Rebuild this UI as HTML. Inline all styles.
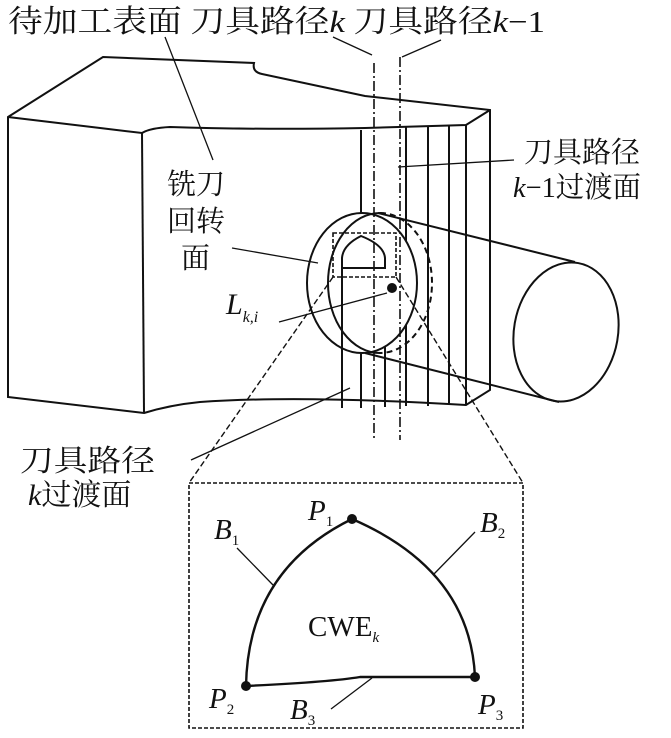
<!DOCTYPE html>
<html><head><meta charset="utf-8"><style>
html,body{margin:0;padding:0;background:#fff;}
svg{display:block;}
text{font-family:"Liberation Serif","Noto Serif CJK SC","Noto Sans CJK SC",serif;fill:#111;}
</style></head><body>
<svg width="671" height="738" viewBox="0 0 671 738" xmlns="http://www.w3.org/2000/svg">
<g fill="none" stroke="#111" stroke-width="2">
<path d="M8,117 L103,57 L254,63 Q252,72 262,74 Q300,82 365,96 L490,110 L490,390 L466,405 Q300,395 200,402 Q170,405 144,413 L8,397 Z"/>
<path d="M8,117 L142,133 Q150,128 170,127 Q260,130 365,128 L466,125 L490,110"/>
<line x1="142" y1="133" x2="144" y2="413"/>
<line x1="361" y1="130" x2="361" y2="408"/>
<line x1="406" y1="127" x2="406" y2="406"/>
<line x1="428" y1="126" x2="428" y2="406"/>
<line x1="449" y1="126" x2="449" y2="405"/>
<line x1="466" y1="125" x2="466" y2="405"/>
<line x1="342" y1="243" x2="342" y2="408"/>
<line x1="385" y1="267" x2="385" y2="407"/>
<ellipse cx="362" cy="283" rx="55" ry="70" fill="#fff"/>
<path d="M380,213 A52,70 0 0 0 380,353"/>
<path d="M380,213 A52,70 0 0 1 380,353" stroke-dasharray="6,4"/>
<line x1="378" y1="213" x2="575" y2="262"/>
<line x1="365" y1="353" x2="559" y2="402"/>
<ellipse cx="566" cy="332" rx="52" ry="70" transform="rotate(10 566 332)"/>
<path d="M342,268 L342,258 Q343,245 361,236 Q384,245 385,258 L385,268 Z"/>
<line x1="342" y1="268" x2="342" y2="408"/>
<rect x="333" y="233" width="63" height="44" stroke-width="1.6" stroke-dasharray="4,2"/>
<line x1="374" y1="63" x2="374" y2="440" stroke-width="1.6" stroke-dasharray="10,3,2,3"/>
<line x1="400" y1="57" x2="400" y2="440" stroke-width="1.6" stroke-dasharray="10,3,2,3"/>
<g stroke-width="1.3">
<line x1="333" y1="37" x2="372" y2="55"/>
<line x1="441" y1="40" x2="402" y2="57"/>
<line x1="165" y1="37" x2="213" y2="160"/>
<line x1="514" y1="160" x2="398" y2="167"/>
<line x1="232" y1="248" x2="318" y2="263"/>
<line x1="279" y1="322" x2="387" y2="293"/>
<line x1="191" y1="460" x2="350" y2="388"/>
</g>
<line x1="333" y1="277" x2="189" y2="483" stroke-width="1.4" stroke-dasharray="6,3"/>
<line x1="396" y1="277" x2="523" y2="483" stroke-width="1.4" stroke-dasharray="6,3"/>
<rect x="189" y="483" width="334" height="245" stroke-width="1.6" stroke-dasharray="4,2"/>
<path d="M246,686 Q248,570 352,519 Q470,570 475,677 L360,677 Q330,682 246,686 Z" stroke-width="2.4"/>
<g stroke-width="1.3">
<line x1="237" y1="548" x2="273" y2="585"/>
<line x1="475" y1="532" x2="433" y2="575"/>
<line x1="331" y1="709" x2="372" y2="678"/>
</g>
</g>
<circle cx="392" cy="288" r="5" fill="#111"/>
<circle cx="352" cy="519" r="5" fill="#111"/>
<circle cx="246" cy="686" r="5" fill="#111"/>
<circle cx="475" cy="677" r="5" fill="#111"/>
<text x="8" y="32" font-size="31" textLength="537" lengthAdjust="spacingAndGlyphs">待加工表面 刀具路径<tspan font-style="italic">k</tspan> 刀具路径<tspan font-style="italic">k</tspan>−1</text>
<text x="524" y="162" font-size="29" textLength="116" lengthAdjust="spacingAndGlyphs">刀具路径</text>
<text x="513" y="197" font-size="29" textLength="128" lengthAdjust="spacingAndGlyphs"><tspan font-style="italic">k</tspan>−1过渡面</text>
<text x="167" y="194" font-size="29">铣刀</text>
<text x="167" y="231" font-size="29">回转</text>
<text x="181" y="268" font-size="29">面</text>
<text x="226" y="314" font-size="30" font-style="italic">L<tspan font-size="16" dy="8">k,i</tspan></text>
<text x="20" y="471" font-size="30" textLength="135" lengthAdjust="spacingAndGlyphs">刀具路径</text>
<text x="28" y="505" font-size="30"><tspan font-style="italic">k</tspan>过渡面</text>
<text x="308" y="520" font-size="29" font-style="italic">P<tspan font-size="15" font-style="normal" dy="6">1</tspan></text>
<text x="214" y="539" font-size="29" font-style="italic">B<tspan font-size="15" font-style="normal" dy="6">1</tspan></text>
<text x="480" y="532" font-size="29" font-style="italic">B<tspan font-size="15" font-style="normal" dy="6">2</tspan></text>
<text x="308" y="636" font-size="29">CWE<tspan font-size="15" font-style="italic" dy="6">k</tspan></text>
<text x="209" y="708" font-size="29" font-style="italic">P<tspan font-size="15" font-style="normal" dy="6">2</tspan></text>
<text x="290" y="719" font-size="29" font-style="italic">B<tspan font-size="15" font-style="normal" dy="6">3</tspan></text>
<text x="478" y="714" font-size="29" font-style="italic">P<tspan font-size="15" font-style="normal" dy="6">3</tspan></text>
</svg>
</body></html>
